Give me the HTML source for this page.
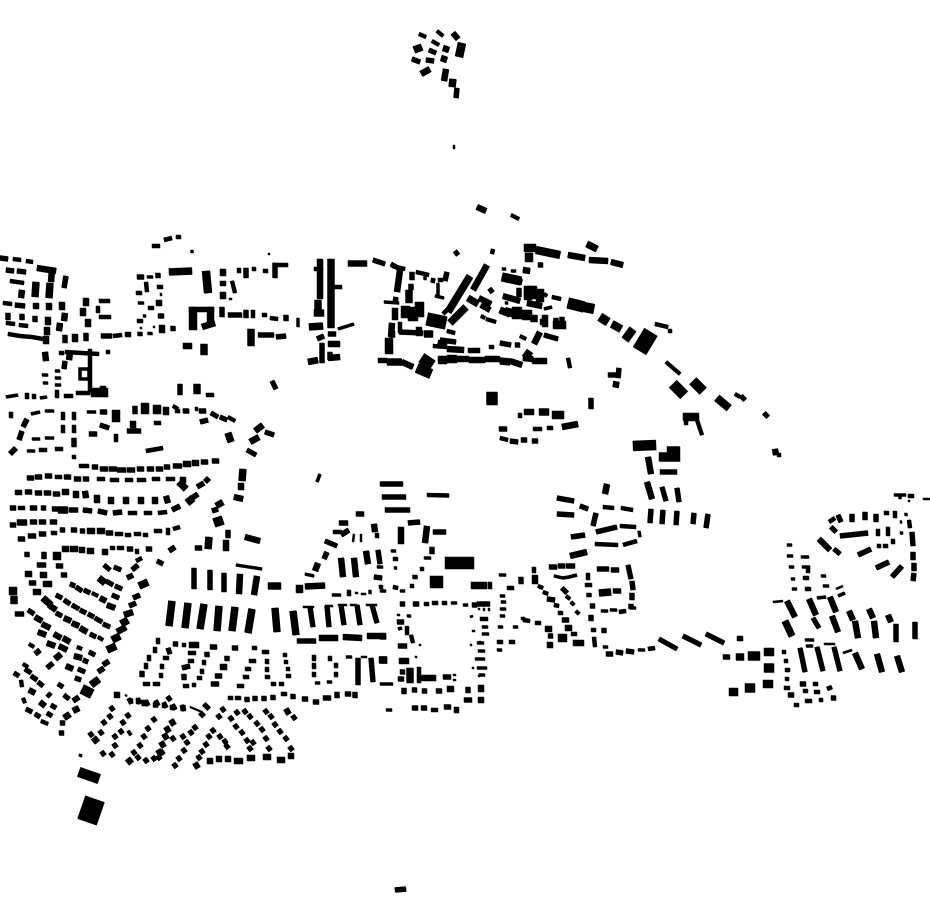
<!DOCTYPE html>
<html><head><meta charset="utf-8"><style>html,body{margin:0;padding:0;background:#fff}svg{display:block}path{fill:none;stroke:#000}</style></head><body>
<svg width="930" height="924" viewBox="0 0 930 924" xmlns="http://www.w3.org/2000/svg">
<g transform="translate(-.25,-.25)"><g id="a">
<!-- NW -->
<path stroke-width="2" d="M269 253v2M161 293v3M140 328h2M153 327h2M229 299h3"/>
<path stroke-width="3" d="M192 250v3M143 316h3M138 303h6M147 277h6M55 371h5M55 378h6M43 383h5M55 385h6M40 398l7-1M31 414l9-2M45 411h9M87 412h9M32 439h8M45 438h9M27 451h8M298 318v9M6 397l12-2M42 375h6"/>
<path stroke-width="4" d="M13 259l8 1M26 261l7 1M10 281l14 2M3 303l9 1M6 323l9 1M19 325l9 1M8 334l12 2M20 336l12 1M32 337l11 2M113 336l9-1M99 301h11M98 306v7M99 317h12M146 282l1 10M157 287h6M136 293h6M148 308h6M137 321h6M152 246h8M164 240l8-2M176 237h5M232 281l3 12M239 268v5M254 267v4M263 271h5M270 318l8 1M262 315h5M253 310v8M273 265h15M108 350v4M59 353h5M65 352l34 2M90 349v44M76 393h14M57 390v8M64 396h9M27 393v6M34 394v5M206 395h8M11 412v6M63 412v8M74 412v8M39 450h8M55 449h8M63 425v8M74 425v8M74 455v4M116 434v8M154 423h7M146 451l17-3M173 406l5 3M175 411h5M183 411h6M195 409h3M228 417l7 4"/>
<path stroke-width="5" d="M0 258l8 1M6 270l8 1M17 271l9 1M66 276l-2 12M15 305l10 1M8 313v7M22 314v6M35 316v6M65 335v8M86 333v8M101 336h11M140 332v4M150 332v3M173 326v5M137 277h7M158 273v5M158 316h6M222 307v10M228 315h14M246 310v8M286 315v6M246 268v10M275 263v15M276 337l10-1M65 361l-1 8M272 381l4 8M180 384v11M135 406v8M183 411h6M199 411h7M211 413l7 4M220 417l7 3M200 422l8-2M27 419l-4 8M22 431l-3 9M10 454l6-6M74 438v9M100 425l9 3M89 434h8M265 432l9 3M100 412h7M127 431h14M247 450l9 5"/>
<path stroke-width="6" d="M22 290l-1 8M36 303v6M49 303v7M62 302v8M65 313l-1 8M48 317v8M47 327v8M60 323l-1 8M46 336v8M75 334v8M86 298v8M83 308v8M88 319v8M128 332v5M162 325v8M159 300v6M223 269v7M223 281v5M223 292v7M183 346h9M202 327l13-4M45 352l1 9M70 352l-1 8M37 268l19 3M52 269l-1 13M166 407v8M255 431l8-6M250 442l9-5M241 483v7"/>
<path stroke-width="7" d="M36 282l-1 15M50 283l-1 15M169 272l23-1M210.500 307v16M204 344v11M251 329v17M197 384v10M228 433l3 9M243 469l-1 12"/>
<path stroke-width="8" d="M193 307v23M206 271l2 22M145 403v11M157 405v9M116 410v12"/>
<path stroke-width="5" d="M189 309.500h25M258 335h16"/>
<path stroke-width="3" fill="none" d="M80 369h9v10h-9z"/>
<path stroke-width="9" d="M91 392.500h17"/>
<path stroke-width="6" d="M103 386v6M133 421v7"/>
<!-- W rows -->
<path stroke-width="4" d="M79 466h10M110 480h9M125 480h8M137 480h9M152 479h8M166 479h9M97 479h8M128 513h9M144 513h8M158 513l9-1M115 534h8M125 535h6M134 534h7M143 535h5M154 531h8M168 528v7M173 529l7-2M18 508h7M51 533h6M55 477h7M110 548h5M117 548h7M137 549v5"/>
<path stroke-width="5" d="M92 467h6M100 469h8M109 469h8M117 470h9M127 470h8M137 469h7M147 469h7M156 469h7M164 467h6M173 466h9M201 462h7M212 461h7M27 478h7M35 477h7M45 476h7M64 477h7M74 479l7 0M83 479h6M15 492.500h7M25 492h7M35 493h7M44 493h7M53 494h7M10 508h6M30 508h7M41 508h5M52 509h6M69 510h9M83 510l9 1M98 511l9 2M113 513l9-1M172 510l8-4M197 487l7-4M205 482l4-4M192 498l6-4M212 511l6-2M10 525h6M30 522h7M39 522h7M50 522h7M18 539h7M28 536h8M39 534h7M60 530h5M71 530h6M80 531h5M106 533h7M228 530v8M195 548h7M127 549h6M146 549h6M169 551l6-4M157 561l6 3M27 552v5M44 552v7M37 565h9M56 566h7M61 575h6M29 583h7"/>
<path stroke-width="6" d="M183 464h8M192 463h7M183 477v6M62 492h7M76 491v7M85 491l1 7M97 495v8M111 497v7M126 497v7M141 497v7M155 497v7M166 496l2 7M216 506l7-4M17 522.500h10M87 531h8M97 531h8M226 540v11M245 537l15 4M234 497l9 2M62 549h7M70 549h8M79 550h6M87 551h7M102 552h6M25 574h7M40 575h7M43 584h9M33 592h8"/>
<path stroke-width="7" d="M179 482l7 7M187 503l6-5M58 510h10M209 537l-1 12"/>
<path stroke-width="8" d="M57 552v8M13 587v8"/>
<path stroke-width="7" d="M14 596v8"/>
<path stroke-width="9" d="M214 523l9-3"/>
<!-- SW diagonals -->
<path stroke-width="4" d="M136 561l6-3M92 593l6 3M98 637l5 3M29 644l5 3M77 647l5 2M23 664l5 3M21 680l1 7M23 698l2 5M47 697l4-4M41 721l7 3"/>
<path stroke-width="5" d="M15 614h9M70 584l5 2M76 587l6 4M84 590l6 3M112 595l7 3M106 581l7 4M115 586l7 3M104 565l6 5M114 567l7 3M132 570l6-5M127 578l6-3M133 598l7-3M129 606l7-3M56 595l6 3M64 600l6 4M72 605l7 4M80 610l6 3M88 614l6 3M95 618l7 4M103 624l7 3M56 613l6 3M90 634l6 3M28 610l6 4M35 654l5-4M89 652l6 3M83 660l5 2M47 668l6-5M78 669l7 3M75 678l6 2M98 672l6-4M103 665l6-4M25 669l6 4M31 676l6 4M38 682l5 4M14 673l5 3M26 709l6 3M35 714l5 3M47 713l5 3M51 705l5 3M58 684l5 3M64 695l5 4M73 701l6-4M60 723h5M59 733h5"/>
<path stroke-width="6" d="M100 598l6 3M107 605l8 3M124 615l9-3M117 632l9-5M49 605l7 5M64 618l7 3M72 623l7 3M80 628l7 4M35 617l7 4M42 624l8 4M38 632l8 3M54 634l7 4M63 638l7 4M47 643l8 3M59 646l8 4M55 659l6-5M74 656l8 2M66 666l7 3M29 690l6 3M40 702l5 4M73 711l6-3M64 718l6-4"/>
<path stroke-width="7" d="M99 578l6 5M139 586l9-4M121 624l7-4M112 640l8-4M107 650l9-4M43 598l8 7M91 685l8-6M268 586h13"/>
<path stroke-width="10" d="M82 689l10 5"/>
<path stroke-width="3" d="M236 565l26 4"/>
<path stroke-width="5" d="M194 568v21M210 570v20M224 573v19"/>
<path stroke-width="6" d="M240 574l-1 20M257 576l-3 19M305 586.500l20-1"/>
<path stroke-width="7" d="M172 601l-3 25M188 603l-3 25M204 604l-4 25M219 606l-2 25M235 607l-3 24M252 609l-4 24M275 608l2 24M293 611l3 24M299.500 585v8"/>
<!-- suburb grid -->
<path stroke-width="4" d="M158 638v6M182 645h4M252 648h5M262 652h7M155 647v6M188 653h8M149 655v6M163 658h6M188 661h6M204 660v5M249 661h7M267 659v5M285 653v4M286 660v4M146 663v6M162 664v5M202 669v5M245 669h6M267 667v5M288 667v4M161 673v5M197 678h5M265 677h5M286 676h5M143 684h7M153 684h7M183 686h6M192 685h4M237 686h7M271 684h5M279 684h5M243 677h6M138 698v6M164 703v5M172 705v5M228 698h5M235 698h6M281 694h6"/>
<path stroke-width="5" d="M173 644h5M210 647h7M232 648h6M168 648l2 6M207 652v5M227 656v5M182 668l8-2M142 671v6M184 674v6M215 676h7M211 684h8M129 701h4M144 700v6M153 705h5M183 705v6M204 704l5 5M247 697v5M255 696v5M264 696v5M273 695v5M293 694v5M302 699h6M313 702h6M323 698h8M337 692v6M345 694h6M355 692v6"/>
<path stroke-width="6" d="M189 645h10M220 667h7M117 692v6"/>
<path stroke-width="2" d="M190 707l12 5M125 695l2 1"/>
<!-- bottom dense blocks -->
<path stroke-width="5" d="M110 710l4-3M108 718l4-3M102 724l4-3M99 734l4-3M89 736l4-3M126 717l4-3M121 724l4-3M119 733l4-3M113 738l4-3M113 747l4-3M110 756l4-3M101 755l4-3M152 721l4-3M146 730l4-3M142 738l4-3M138 747l4-3M132 754l4-3M136 759l4-3M144 762l4-3M152 760l4-3M157 759l4-3M160 754l4-3M171 740l4-3M193 729l4-3M189 734l4-3M185 744l4-3M181 738l4-3M182 752l4-3M177 760l4-3M173 767l4-3M211 732l4-3M207 738l4-3M204 746l4-3M200 753l4-3M197 759l4-3M218 738l4-3M223 743l4-3M225 748l4-3M221 711l4-3M217 718l4-3M229 720l4-3M235 714l4-3M243 713l4-3M234 728l4-3M240 734l4-3M245 742l4-3M248 750l4-3M251 744l4-3M248 718l4-3M255 725l4-3M260 731l4-3M264 740l4-3M267 750l4-3M264 713l4-3M269 718l4-3M273 726l4-3M278 733l4-3M284 740l4-3M289 750l4-3M292 719l4-3M167 700l4-3M200 716l4-3M128 734l3-2M200 713l4 3"/>
<path stroke-width="6" d="M93 742l5-4M127 763l5-4M170 724l5-3M165 731l5-3M163 738l5-3M160 746l5-3M157 754l5-3M194 767l5-3M285 713l5-3M128 702l4-2M137 702l4-2M145 704l4-2M155 704l4-2M163 706l4-2M172 708l4-2M181 709l4-2M207 761h6M216 759h6M225 759h6M234 761h9M247 758h8M263 757h8M277 760h8M288 756h6"/>
<!-- central-south -->
<path stroke-width="2" d="M303 607h11M325 606h8M338 605h9M350 605h7M366 605h11M361 657h6M355 593h3M361 594h5M354 534l-1 8M361 534v8"/>
<path stroke-width="3" d="M346 657h6M315 683h5M327 682h5M305 574l9 2M370 590v4M332 595h9M380 591h6M377 567h6M400 591h5M391 551h5M394 568h3M424 558h7M380 684h13M317 482l3-8"/>
<path stroke-width="4" d="M314 655v6M330 656v5M314 663v6M336 663v5M314 672v5M336 672v5M393 559h5M393 587l5 1M381 585v4M349 590v6M410 586h4M422 567v4M377 533v5M427 495l22 .5M333 532h9M490 582v7"/>
<path stroke-width="5" d="M310 607l3 20M327 606l2 21M341 605l3 20M357 605l3 20M372 605l5 18M297 641h19M358 658v27M371 658l2 24M380 484h23M382 497h24M385 510h25M356 514h8M339 523h9M341 535l8-5M325 541l12 5M327 552l-3 7M378 550l2 14M374 577l8 1M408 523l12-1M433 532h13M432 547v7M415 575v4"/>
<path stroke-width="6" d="M319 638h19M343 637l19 1M341 558l2 19M354 558l2 19M366 551l2 13M318 563l-3 8M374 524l1 8M401 527v17M427 526l-2 17M367 636h19"/>
<path stroke-width="7" d="M379 660h8M471 585.500h16"/>
<path stroke-width="12" d="M445 563h29M430 582h13"/>
<!-- courtyard -->
<path stroke-width="2" d="M397 615h3M419 645h2M415 657h2M453 675h3M453 680h3M470 617l3-1M472 631h3M479 608v2M484 608v3M489 608v3M479 642h2M470 645h2M472 668h2M478 676h2"/>
<path stroke-width="3" d="M407 616h4M398 629l4-1M482 627h6M482 634h7M477 643h7M478 651h7M475 659h10M479 675h6M451 603h6M463 605h5M386 710h6M477 668h10"/>
<path stroke-width="4" d="M424 604h5M432 603h6M442 603h5M407 626v9M411 635l2 8M419 667v16M431 710h7M480 619h8"/>
<path stroke-width="5" d="M400 604h5M413 604h6M472 605h5M477 604h13M397 622h7M398 646h9M380 637h6M400 672h5M398 679h6M443 677h8M404 688v6M412 690h5M422 691h5M436 691h6M468 687v6M464 700h8M412 708h6M421 708h6M444 707h7"/>
<path stroke-width="6" d="M399 661h10M421 678h15M447 689h7M481 685v7M481 697v6M454 710h5"/>
<path stroke-width="7" d="M380 660h7M410 668v15"/>
<!-- east of courtyard -->
<path stroke-width="3" d="M499 575h7M500 596h5M501 602h5M500 609h6M500 616h5M498 627h5M513 627h5M497 650h5M601 611h7M610 610h7M603 647h5M638 650h7M554 576l9 2 6-1 8-2M630 608h6M639 531l1 6"/>
<path stroke-width="4" d="M507 588h7M497 642h6M509 642h6M534 567v6M538 586l5 2M543 592l5 2M554 605l5 1M558 613h5M571 634h6M594 637l1 10M523 620l7 1M523 617v3M535 623h6M566 596l4 3M571 602l3 3M576 611l3 3M588 573v7M585 585h7M591 630h5M619 612l7-1M603 507l11 1M621 508l12 2M595 544l23 1M623 545l14-4M648 649l7-1M620 526l16 1"/>
<path stroke-width="5" d="M521 577v7M547 599l8 1M562 620h7M548 636h5M549 567h8M558 566h7M566 566h9M562 588l5 5M589 593v4M590 606h5M591 615v6M604 628v5M597 569h12M611 570h8M628 565l3 14M632 581l1 9M632 593v7M631 604v5M613 591h8M606 654h7M616 652l7 1M626 651l8 1M659 639l18 10M683 636l18 9M706 634l18 9M557 498l17 3M557 514l17 1M580 506l8 3M596 513l-3 13M596 532l21-5M571 537l14-2M662 487l4 14M677 488l2 14M651 509l-1 14M663 510l-1 14M677 511l-1 14M694 513l-1 11M708 514l-2 14M660 472h17"/>
<path stroke-width="6" d="M535 575v9M545 629h7M565 628h7M547 645h6M573 643h11M607 484l-2 10M570 556l17-4M648 457l3 17M647 482l5 17"/>
<path stroke-width="7" d="M599 593l12-1"/>
<path stroke-width="8" d="M558 638h9"/>
<path stroke-width="10" d="M633 446l23-1"/>
<path stroke-width="9" d="M659 457h21"/>
<path stroke-width="6" d="M667 449.500h13"/>
<!-- far east -->
<path stroke-width="2" d="M923 499h7M773 602l10-1M836 589l7-3M824 644h11M843 653l9-3M908 501h2"/>
<path stroke-width="3" d="M894 495h12M900 496v3M900 522h2M900 533h3M906 513v3M787 545h5M787 556h6M801 557h8M789 567h5M802 567h8M791 579h4M792 589h5M821 576h5M823 586h6M838 596l7-3M817 598l9-1M805 640h9M806 646h7"/>
<path stroke-width="4" d="M908 496h6M829 522l6-4M884 513h5M895 511v7M909 520l1 8M878 529v7M888 527v9M893 539v5M877 546h4M883 546h5M803 578h6M808 568v5M805 589h6M782 652h4M784 661h4M785 670h5M785 679h4M784 688h6M794 705h5M813 684h5M803 691h5M814 692h6M827 689l5-2M805 701h7M819 700h4"/>
<path stroke-width="5" d="M838 515l3 7M852 514v8M865 512v8M876 514v8M912 532l1 14M913 552v8M914 563v8M914 573l-1 8M831 527l5 5M840 536l28-3M834 549l6 5M858 555l13-6M876 568l13-6M892 577l10-11M813 618l6 10M896 624v18M915 622v17M800 648l5 24M817 647l6 24M834 647l6 24M723 657h7M788 695h6M800 684h6M831 698h5"/>
<path stroke-width="6" d="M819 539l11 11M787 601l8 16M809 599l7 16M830 597l6 15M832 616l6 16M849 611l4 9M869 609l4 9M888 615l3 7M855 621l3 17M874 621l2 17M855 653l7 16M877 654l5 18M897 656l5 16M740 636v5"/>
<path stroke-width="7" d="M785 621l7 15M736 657h8"/>
<path stroke-width="8" d="M764 652h10M729 692h9M763 684h10"/>
<path stroke-width="9" d="M748 656h12M764 668h10M745 688h10"/>
<!-- north spine -->
<path stroke-width="3" d="M338 329l16-5M438 283v13M435 296l9 2M384 302l15 1M425 275v5M502 269h4M511 271h5M505 303h3M544 309l8-2"/>
<path stroke-width="4" d="M314 269h9M334 287h8M392 266l13 3M416 272l13 3M438 280h5M400 322v11M443 314l5-5M511 215l8 4M493 249l-1 5M481 316l4 2M486 319l10 3M489 347h5M520 336l6 3M544 294l3 2M552 297l9 2M447 331l8 2M438 342l9 2M433 346l14 1M568 358l2 10M520 413v5M500 438l8 2M533 429h9M547 428h6M655 324l13 3M668 331h4M666 362l14 12M735 394l5 3M686 415v10M697 420l5 15M777 455h4"/>
<path stroke-width="5" d="M328 334h8M330 352v8M373 260l12 4M391 264l7 4M396 297l-1 7M378 360.500h9M412 272v8M431 280l4 1M447 272l-2 9M411 284v6M399 332l24 1M455 251l3 4M440 340l16 2M468 350.500h12M489 292l4-3M500 343l11 2M515 345h5M538 265h5M544 335l14 4M608 375h11M619 368l-1 10M591 398v11M499 429h8M510 441l8 1M521 440h6M532 441h6M741 396l4 4M764 413l4 4M556 318v7M562 317v10M317 339l7-3M322 343v20"/>
<path stroke-width="6" d="M320 259v40M487 265l-14 25M308 362l10-2M348 263.500h19M328 358l12-1M328 344h12M400 270l-3 22M395 308v12M392 323l-1 14M402 362l11 5M479 298l12 6M481 305l9 5M447 349l17 1M457 359h12M469 360h16M485 359h15M510 361l12 4M523 358l10 1M532 361h15M540 332l-6 12M568 255l17 3M589 260l19 1M611 262l12 3M523 270l7 1M477 207l9 4M503 296l17 5M527 303l15 3M514 280l8 2M545 315v12M540 322h8M613 384l6 1M524 412h10M562 427l16-3M775 449l1 6M419 327v9"/>
<path stroke-width="7" d="M470 276l-22 36M450 323l16-16M309 327l14-1M314 313h10M318 300v13M331 259v69M389 334h6M387 362h15M409 290v13M424 334h9M468 298l10 6M587 244l10 5M530 351l-5 7M500 310l10 4M534 315v7M539 412h10M500 361l10 1"/>
<path stroke-width="8" d="M389 338v16M524 248h12M529 253v9M536 250l24 5M438 360h9M447 359h10M612 324l9 5M633 329l-8 11M552 415h12M553 325h13M683 417h16M717 398l12 10M528 286v14M505 311l10 3"/>
<path stroke-width="9" d="M405.500 306v12M419.500 302v15M502 277l19 4M600 317l8 5"/>
<path stroke-width="10" d="M413 307v14M517 307v12M527 310v10M417 368l14 6M584 307l10 2M693 381l10 10"/>
<path stroke-width="11" d="M568 303l16 4M492 392v13M673 384l11 11"/>
<path stroke-width="13" d="M427 319l19 4M430 357l-6 9"/>
<path stroke-width="15" d="M651 332l-11.500 19"/>
<path stroke-width="8" d="M524 294h18M533 286v13M540 289v13"/>
<path stroke-width="5" d="M519 288v9"/>
<!-- top cluster -->
<path stroke-width="2" d="M454 145v4"/>
<path stroke-width="4" d="M419 34l7 3M437 31l6 5M432 41l7 4"/>
<path stroke-width="5" d="M429 50l7 3M412 59l8 3M426 60l8 1M457 88l-1 10"/>
<path stroke-width="6" d="M453 33l5 6M447 46l-2 6M445 56l-2 6M421 74l9-5M446 69l-2 12"/>
<path stroke-width="7" d="M414 50l8-3M453 79l-1 8"/>
<path stroke-width="8" d="M462 43l-3 14"/>
<!-- south -->
<path stroke-width="3" d="M79 755l3 1"/>
<path stroke-width="10" d="M79 772l20 7"/>
<path stroke-width="20" d="M95 799l-8 23"/>
<path stroke-width="5" d="M395 890l11-1"/>
</g><use href="#a" x=".5" y=".5"/></g>
</svg>
</body></html>
